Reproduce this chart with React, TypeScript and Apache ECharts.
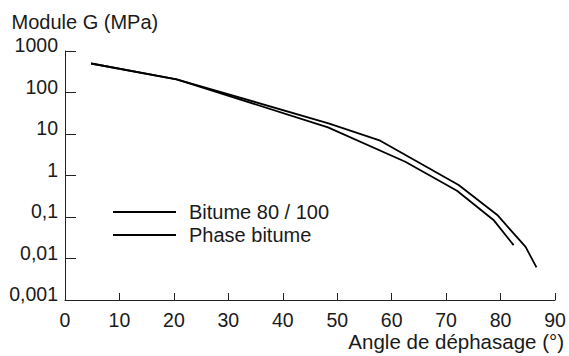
import React, { useEffect, useRef } from "react";
import * as echarts from "echarts";

const angleBitume = [4.8, 20.5, 48.4, 57.9, 72.3, 79.4, 84.6, 86.6];
const modulusBitume = [500, 208, 18.1, 6.9, 0.59, 0.112, 0.019, 0.0061];
const anglePhase = [4.8, 20.5, 48.3, 62.5, 72.0, 78.7, 82.4];
const modulusPhase = [500, 208, 14.5, 2.15, 0.43, 0.085, 0.021];
const seriesNames = ["Bitume 80 / 100", "Phase bitume"];
const yTickValues = [0.001, 0.01, 0.1, 1, 10, 100, 1000];
const yTickLabels = ["0,001", "0,01", "0,1", "1", "10", "100", "1000"];
const xTicks = [0, 10, 20, 30, 40, 50, 60, 70, 80, 90];
const yTitle = "Module G (MPa)";
const xTitle = "Angle de déphasage (°)";

const FONT = "Liberation Sans, Arial, Helvetica, sans-serif";

export default function App() {
  const ref = useRef<HTMLDivElement>(null);
  useEffect(() => {
    if (!ref.current) return;
    const chart = echarts.init(ref.current, undefined, { renderer: "svg" });
    const yLabel = (v: number) => {
      const i = yTickValues.findIndex((t) => Math.abs(Math.log10(t) - Math.log10(v)) < 1e-6);
      return i >= 0 ? yTickLabels[i] : "";
    };
    chart.setOption({
      animation: false,
      backgroundColor: "#fff",
      textStyle: { fontFamily: FONT },
      grid: { left: 65, right: 14, top: 51, bottom: 56, containLabel: false },
      legend: {
        orient: "vertical",
        left: 113,
        top: 202,
        padding: 0,
        itemGap: 3,
        itemWidth: 63,
        itemHeight: 2,
        icon: "rect",
        data: seriesNames,
        textStyle: { fontSize: 20, color: "#1a1a1a", fontFamily: FONT, padding: [0, 0, 0, 8] },
      },
      xAxis: {
        type: "value",
        min: xTicks[0],
        max: xTicks[xTicks.length - 1],
        interval: 10,
        axisLine: { show: true, lineStyle: { color: "#222", width: 1 } },
        axisTick: { show: true, inside: true, length: 7, lineStyle: { color: "#222" } },
        axisLabel: { fontSize: 19.5, color: "#1a1a1a", fontFamily: FONT, margin: 10, lineHeight: 19 },
        splitLine: { show: false },
      },
      yAxis: {
        type: "log",
        logBase: 10,
        min: yTickValues[0],
        max: yTickValues[yTickValues.length - 1],
        axisLine: { show: true, lineStyle: { color: "#222", width: 1 } },
        axisTick: { show: true, inside: true, length: 11, lineStyle: { color: "#222" } },
        minorTick: { show: false },
        axisLabel: {
          fontSize: 19.5,
          color: "#1a1a1a",
          fontFamily: FONT,
          margin: 7,
          verticalAlign: "bottom",
          lineHeight: 12,
          formatter: yLabel,
        },
        splitLine: { show: false },
      },
      graphic: [
        {
          type: "text",
          left: 11.5,
          top: 12,
          style: { text: yTitle, fontSize: 20, fill: "#1a1a1a", fontFamily: FONT },
        },
        {
          type: "text",
          right: 5,
          top: 331,
          style: { text: xTitle, fontSize: 20.5, fill: "#1a1a1a", fontFamily: FONT },
        },
      ],
      series: [
        {
          name: seriesNames[0],
          type: "line",
          symbol: "none",
          data: angleBitume.map((a, i) => [a, modulusBitume[i]]),
          lineStyle: { color: "#000", width: 1.8 },
          itemStyle: { color: "#000" },
        },
        {
          name: seriesNames[1],
          type: "line",
          symbol: "none",
          data: anglePhase.map((a, i) => [a, modulusPhase[i]]),
          lineStyle: { color: "#000", width: 1.8 },
          itemStyle: { color: "#000" },
        },
      ],
    });
    return () => chart.dispose();
  }, []);
  return <div ref={ref} style={{ width: 569, height: 356, position: "absolute", left: 0, top: 0 }} />;
}
